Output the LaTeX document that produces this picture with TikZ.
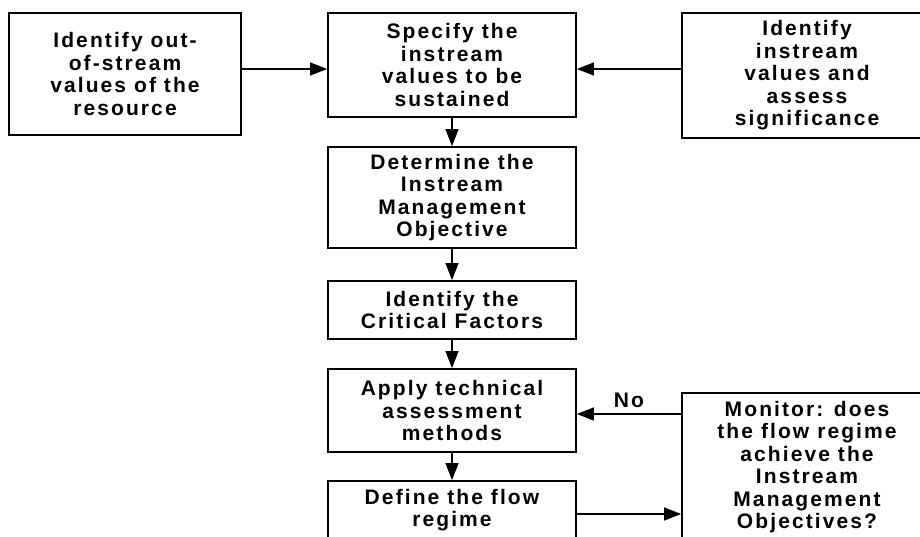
\documentclass[tikz,border=0pt]{standalone}
\usepackage{fontspec}
\setmainfont{Liberation Sans}[LetterSpace=10]
\usetikzlibrary{arrows.meta}
\definecolor{flowink}{HTML}{000000}

\begin{document}
\begin{tikzpicture}[x=1pt,y=1pt,
    stepbox/.style={draw=flowink,line width=1.8pt,align=center,inner sep=0pt,
      font=\fontsize{21}{22.5}\selectfont\bfseries},
    flow/.style={draw=flowink,line width=1.3pt,-{Triangle[length=17pt,width=13pt]}}]
  \useasboundingbox (0,0) rectangle (920,-536);
  \clip (0,0) rectangle (920,-536);
  % top row
  \node[stepbox,minimum width=232,minimum height=122] (outvals) at (125,-74)
    {Identify out-\\of-stream\\values of the\\resource};
  \node[stepbox,minimum width=248,minimum height=104] (specify) at (452,-65)
    {Specify the\\instream\\values to be\\sustained};
  \node[stepbox,minimum width=250,minimum height=125] (invals) at (807,-75.5)
    {Identify\\instream\\values and\\assess\\significance};
  % centre column
  \node[stepbox,minimum width=248,minimum height=101] (objective) at (452,-197.5)
    {Determine the\\Instream\\Management\\Objective};
  \node[stepbox,minimum width=248,minimum height=58] (factors) at (452,-310)
    {Identify the\\Critical Factors};
  \node[stepbox,minimum width=248,minimum height=83] (methods) at (452,-410.5)
    {Apply technical\\assessment\\methods};
  \node[stepbox,minimum width=248,minimum height=58] (regime) at (452,-510)
    {Define the flow\\regime};
  \node[stepbox,minimum width=250,minimum height=148] (monitor) at (807,-467)
    {Monitor: does\\the flow regime\\achieve the\\Instream\\Management\\Objectives?};
  % connectors
  \draw[flow] ([yshift=-4]specify.west -| outvals.east) -- ([yshift=-4]specify.west);
  \draw[flow] ([yshift=-4]specify.east -| invals.west) -- ([yshift=-4]specify.east);
  \draw[flow] (specify) -- (objective);
  \draw[flow] (objective) -- (factors);
  \draw[flow] (factors) -- (methods);
  \draw[flow] (methods) -- (regime);
  \draw[flow] ([yshift=-3.5]methods.east -| monitor.west) -- node[above,yshift=2,
    font=\fontsize{21}{22}\selectfont\bfseries] {No} ([yshift=-3.5]methods.east);
  \draw[flow] ([yshift=-4]regime.east) -- ([yshift=-4]regime.east -| monitor.west);
\end{tikzpicture}
\end{document}
